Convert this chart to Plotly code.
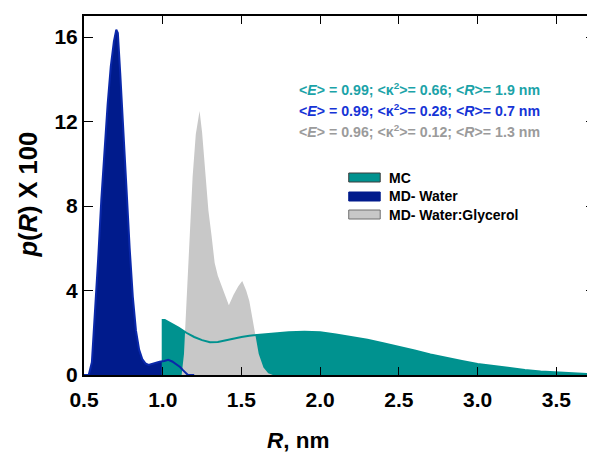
import plotly.graph_objects as go

# ---------------- data ----------------
md_water_x = [0.50, 0.53, 0.55, 0.57, 0.59, 0.61, 0.63, 0.65, 0.67, 0.69, 0.705, 0.715, 0.73, 0.75,
              0.77, 0.79, 0.81, 0.83, 0.85, 0.87, 0.89, 0.91, 0.94, 0.98, 1.01, 1.035, 1.06, 1.09,
              1.11, 1.13, 1.16, 1.20]
md_water_y = [0.0, 0.0, 0.6, 2.8, 5.5, 8.3, 10.8, 12.8, 14.6, 15.8, 16.35, 16.2, 14.3, 11.8,
              8.8, 6.0, 3.7, 2.1, 1.2, 0.75, 0.55, 0.48, 0.55, 0.63, 0.66, 0.72, 0.64, 0.50,
              0.38, 0.22, 0.0, 0.0]

mc_x = [1.0, 1.0, 1.013, 1.05, 1.1, 1.15, 1.2, 1.25, 1.3, 1.35, 1.4, 1.45, 1.5, 1.55, 1.6, 1.7,
        1.8, 1.9, 2.0, 2.1, 2.2, 2.3, 2.4, 2.5, 2.6, 2.7, 2.8, 2.9, 3.0, 3.1, 3.2, 3.3, 3.4,
        3.5, 3.6, 3.7, 3.76]
mc_y = [0.0, 2.6, 2.6, 2.45, 2.25, 2.0, 1.8, 1.65, 1.55, 1.56, 1.65, 1.73, 1.8, 1.86, 1.9, 1.98,
        2.03, 2.05, 2.02, 1.92, 1.8, 1.67, 1.5, 1.34, 1.16, 0.97, 0.8, 0.66, 0.52, 0.42, 0.32,
        0.24, 0.17, 0.12, 0.08, 0.05, 0.04]

glyc_x = [1.12, 1.135, 1.15, 1.17, 1.19, 1.21, 1.234, 1.25, 1.27, 1.29, 1.31, 1.33, 1.35, 1.38,
          1.42, 1.45, 1.48, 1.505, 1.53, 1.55, 1.58, 1.61, 1.64, 1.67, 1.70]
glyc_y = [0.0, 1.0, 3.3, 6.7, 9.4, 11.4, 12.5, 11.5, 9.5, 7.8, 6.6, 5.3, 4.7, 4.1,
          3.3, 3.8, 4.2, 4.45, 4.0, 3.5, 2.3, 1.0, 0.35, 0.08, 0.0]

series_names = ["MC", "MD- Water", "MD- Water:Glycerol"]
stats_lines = [
    "&lt;<i>E</i>&gt; = 0.99; &lt;κ<sup>2</sup>&gt;= 0.66; &lt;<i>R</i>&gt;= 1.9 nm",
    "&lt;<i>E</i>&gt; = 0.99; &lt;κ<sup>2</sup>&gt;= 0.28; &lt;<i>R</i>&gt;= 0.7 nm",
    "&lt;<i>E</i>&gt; = 0.96; &lt;κ<sup>2</sup>&gt;= 0.12; &lt;<i>R</i>&gt;= 1.3 nm",
]
x_ticks = [0.5, 1.0, 1.5, 2.0, 2.5, 3.0, 3.5]
y_ticks = [0, 4, 8, 12, 16]

# ---------------- styles ----------------
TEAL = "rgb(0,146,143)"
NAVY = "rgb(0,27,140)"
GREY = "rgb(200,200,200)"
TXT_TEAL = "rgb(27,163,168)"
TXT_BLUE = "rgb(22,52,214)"
TXT_GREY = "rgb(155,155,155)"
FONT = "Liberation Sans, Arial, sans-serif"

OFF = 8  # page body margin
W, H = 595 - OFF, 452 - OFF
# plot area in reference (window) pixels
RL, RR, RT, RB = 83.5, 595, 16, 375
L, T = RL - OFF, RT - OFF
B = H - (RB - OFF)
R = W - (RR - OFF)


def px(xref_px):
    return (xref_px - RL) / (RR - RL)


def py(yref_px):
    return (RB - yref_px) / (RB - RT)


fig = go.Figure()

# fills
fig.add_trace(go.Scatter(x=md_water_x, y=md_water_y, fill="tozeroy", mode="lines",
                         line=dict(width=0), fillcolor=NAVY, showlegend=False, hoverinfo="skip"))
fig.add_trace(go.Scatter(x=mc_x, y=mc_y, fill="tozeroy", mode="lines",
                         line=dict(width=0), fillcolor=TEAL, showlegend=False, hoverinfo="skip"))
fig.add_trace(go.Scatter(x=glyc_x, y=glyc_y, fill="tozeroy", mode="lines",
                         line=dict(width=0), fillcolor=GREY, showlegend=False, hoverinfo="skip"))
# outlines
fig.add_trace(go.Scatter(x=mc_x, y=mc_y, mode="lines", line=dict(width=2, color=TEAL),
                         showlegend=False, hoverinfo="skip"))
fig.add_trace(go.Scatter(x=md_water_x, y=md_water_y, mode="lines",
                         line=dict(width=2, color="rgb(10,40,170)"),
                         showlegend=False, hoverinfo="skip"))

annotations = []
shapes = []

# stats text
for i, (txt, col) in enumerate(zip(stats_lines, [TXT_TEAL, TXT_BLUE, TXT_GREY])):
    annotations.append(dict(text="<b>" + txt + "</b>", xref="paper", yref="paper",
                            x=px(297), y=py(89 + 21 * i), xanchor="left", yanchor="middle",
                            showarrow=False, font=dict(family=FONT, size=14.2, color=col)))

# custom legend
leg_cols = [TEAL, NAVY, GREY]
leg_border = ["rgb(60,60,60)", NAVY, "rgb(110,110,110)"]
leg_y = [177.5, 196.5, 214.5]
for name, fc, bc, yc in zip(series_names, leg_cols, leg_border, leg_y):
    shapes.append(dict(type="rect", xref="paper", yref="paper",
                       x0=px(348.5), x1=px(380), y0=py(yc - 4.5), y1=py(yc + 4.5),
                       fillcolor=fc, line=dict(color=bc, width=1)))
    annotations.append(dict(text="<b>" + name + "</b>", xref="paper", yref="paper",
                            x=px(387), y=py(yc), xanchor="left", yanchor="middle",
                            showarrow=False, font=dict(family=FONT, size=14, color="black")))

# axis titles
annotations.append(dict(text="<b><i>p</i>(<i>R</i>) X 100</b>", xref="paper", yref="paper",
                        x=px(27), y=py(195), xanchor="center", yanchor="middle", textangle=-90,
                        showarrow=False, font=dict(family=FONT, size=25.5, color="black")))
annotations.append(dict(text="<b><i>R</i>, nm</b>", xref="paper", yref="paper",
                        x=px(298), y=py(441), xanchor="center", yanchor="middle",
                        showarrow=False, font=dict(family=FONT, size=22.5, color="black")))

fig.update_layout(
    width=W, height=H,
    margin=dict(l=L, r=R, t=T, b=B, pad=0, autoexpand=False),
    paper_bgcolor="white", plot_bgcolor="white",
    showlegend=False,
    annotations=annotations, shapes=shapes,
    xaxis=dict(range=[0.5, 0.5 + (RR - RL) / 157.6], tickvals=x_ticks,
               ticktext=[f"{v:.1f}" for v in x_ticks],
               ticks="inside", ticklen=8, tickwidth=1, tickcolor="black",
               showline=True, linecolor="black", linewidth=2, mirror="ticks",
               showgrid=False, zeroline=False, automargin=False, ticklabelstandoff=5,
               tickfont=dict(family=FONT, size=21, color="black", weight="bold")),
    yaxis=dict(range=[0, 17], tickvals=y_ticks, ticks="inside", ticklen=9, tickwidth=1,
               tickcolor="black", showline=True, linecolor="black", linewidth=2,
               showgrid=False, zeroline=False, automargin=False,
               tickfont=dict(family=FONT, size=21, color="black", weight="bold")),
    yaxis2=dict(range=[0, 17], tickvals=y_ticks, ticks="inside", ticklen=9, tickwidth=1,
                tickcolor="black", showline=False, showticklabels=False, showgrid=False,
                zeroline=False, overlaying="y", side="right", anchor="x", automargin=False),
)
# invisible trace on yaxis2 so the right-side ticks render
fig.add_trace(go.Scatter(x=[0.5], y=[0], yaxis="y2", mode="markers", marker=dict(opacity=0),
                         showlegend=False, hoverinfo="skip"))

fig.write_html("out.html")
